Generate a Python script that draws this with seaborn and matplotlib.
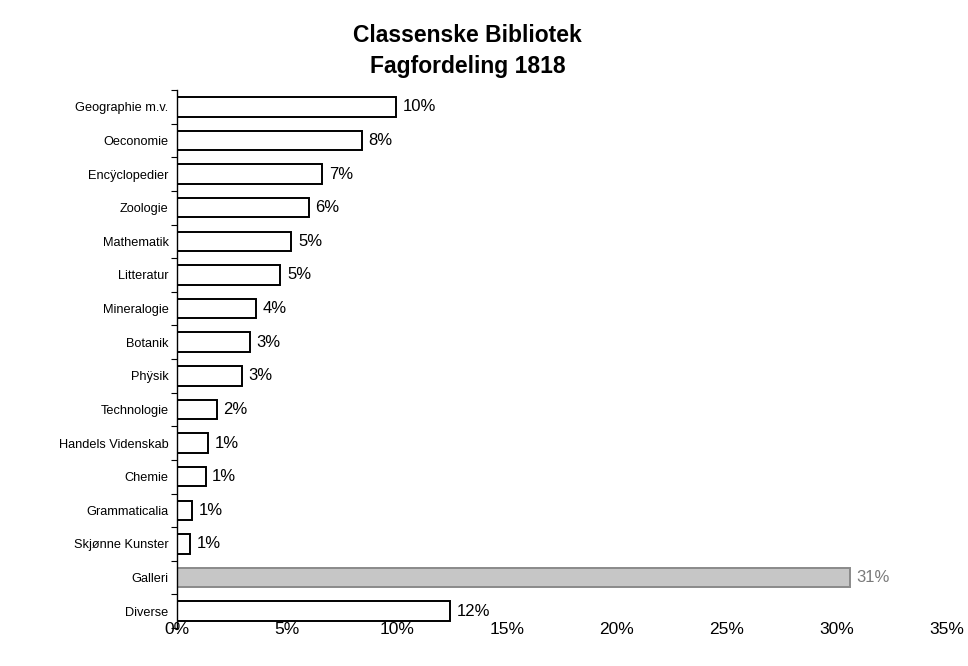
import numpy as np
import pandas as pd
import seaborn as sns
import matplotlib.pyplot as plt
from matplotlib.ticker import FuncFormatter

# data (percent of the collection)
fag = ['Geographie m.v.', 'Oeconomie', 'Encÿclopedier', 'Zoologie', 'Mathematik',
       'Litteratur', 'Mineralogie', 'Botanik', 'Phÿsik', 'Technologie',
       'Handels Videnskab', 'Chemie', 'Grammaticalia', 'Skjønne Kunster',
       'Galleri', 'Diverse']
andel = [9.95, 8.4, 6.6, 6.0, 5.2, 4.7, 3.6, 3.3, 2.95, 1.8, 1.4, 1.3, 0.7, 0.6, 30.6, 12.4]
x_ticks = [0, 5, 10, 15, 20, 25, 30, 35]

df = pd.DataFrame({'fag': fag, 'andel': andel})

sns.set_theme(style='white')
plt.rcParams['font.family'] = ['Liberation Sans', 'DejaVu Sans']
plt.rcParams['text.color'] = 'black'
plt.rcParams['xtick.color'] = 'black'
plt.rcParams['ytick.color'] = 'black'

fig = plt.figure(figsize=(9.68, 6.66), dpi=100)
ax = fig.add_axes([177 / 968, 1 - 628 / 666, (947 - 177) / 968, (628 - 90) / 666])

sns.barplot(data=df, x='andel', y='fag', orient='h', color='white',
            edgecolor='black', linewidth=1.4, width=0.58, ax=ax)

# Galleri is drawn grey in the original
for p, navn in zip(ax.patches, fag):
    if navn == 'Galleri':
        p.set_facecolor('#c6c6c6')
        p.set_edgecolor('#8a8a8a')

for i, v in enumerate(andel):
    farve = '#7a7a7a' if fag[i] == 'Galleri' else 'black'
    ax.text(v + 0.3, i, f'{round(v)}%', va='center', ha='left',
            fontsize=12, color=farve)

ax.set_xlim(0, 35)
ax.set_ylim(15.5, -0.5)
ax.set_xticks(x_ticks)
ax.xaxis.set_major_formatter(FuncFormatter(lambda v, _: f'{v:.0f}%'))
ax.tick_params(axis='x', length=0, pad=-4, labelsize=12.5, labelcolor='black')
ax.tick_params(axis='y', length=0, pad=6, labelsize=9.2, labelcolor='black')
ax.set_yticks(np.arange(-0.5, 16, 1), minor=True)
ax.tick_params(axis='y', which='minor', length=4, width=0.8, color='black', left=True)
ax.set_xlabel('')
ax.set_ylabel('')

for s in ['top', 'right', 'bottom']:
    ax.spines[s].set_visible(False)
ax.spines['left'].set_color('black')
ax.spines['left'].set_linewidth(1.0)

fig.text(0.483, 0.946, 'Classenske Bibliotek', ha='center', va='center',
         fontsize=16.5, fontweight='bold', color='black')
fig.text(0.483, 0.900, 'Fagfordeling 1818', ha='center', va='center',
         fontsize=16.5, fontweight='bold', color='black')

fig.savefig('out.png', dpi=100, facecolor='white')
